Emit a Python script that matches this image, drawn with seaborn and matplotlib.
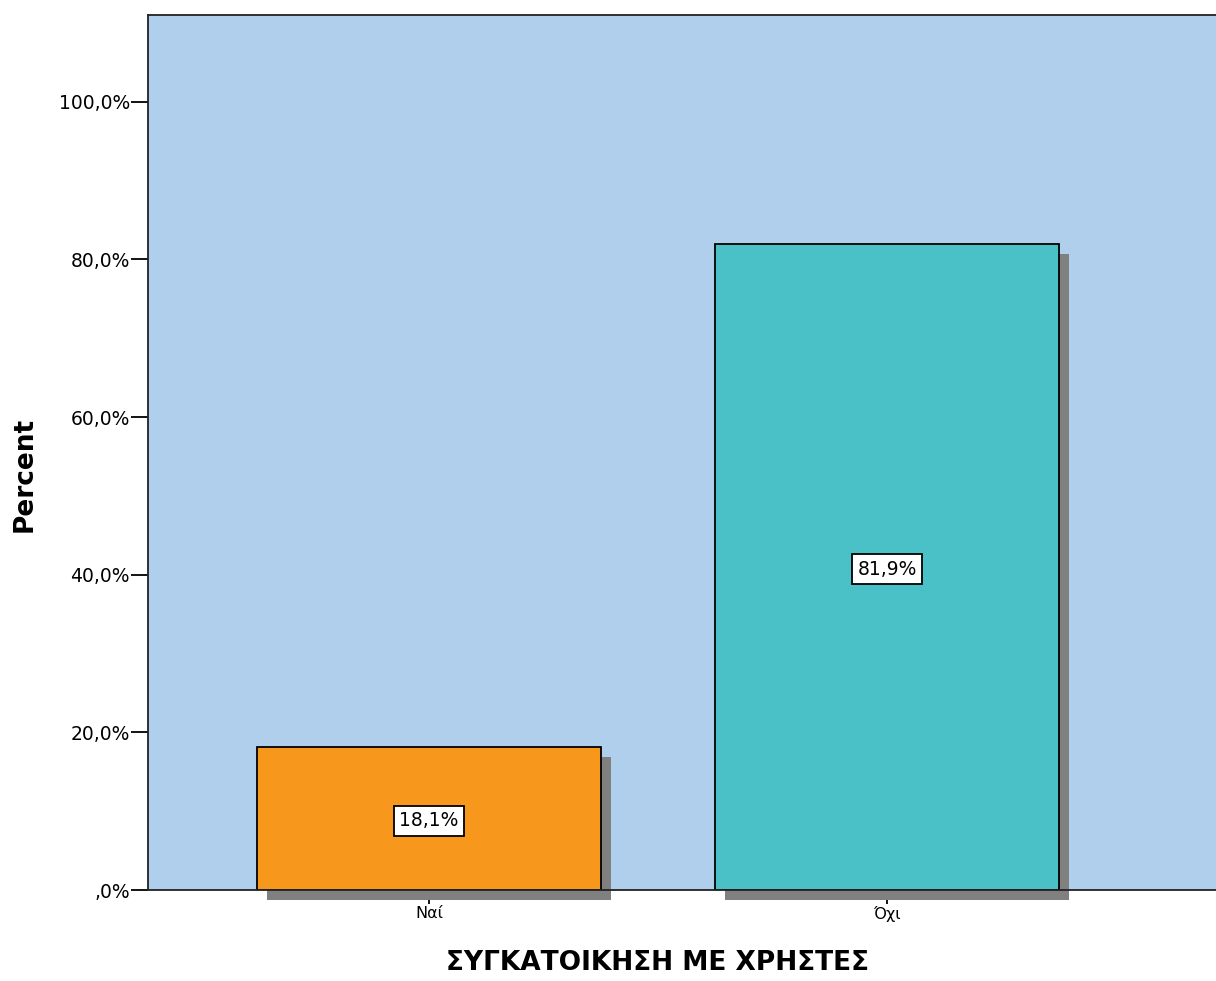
import matplotlib
matplotlib.use("Agg")
import matplotlib.pyplot as plt
import matplotlib.transforms as mtransforms
import seaborn as sns
import pandas as pd

categories = ["Ναί", "Όχι"]
percent = [18.1, 81.9]
bar_labels = ["18,1%", "81,9%"]
ytick_values = [0, 20, 40, 60, 80, 100]
ytick_labels = [",0%", "20,0%", "40,0%", "60,0%", "80,0%", "100,0%"]
colors = ["#F7981D", "#4AC1C6"]

sns.set_theme(style="white")
plt.rcParams["font.family"] = ["DejaVu Sans"]
plt.rcParams["text.color"] = "black"
plt.rcParams["xtick.color"] = "black"
plt.rcParams["ytick.color"] = "black"
plt.rcParams["axes.labelcolor"] = "black"

df = pd.DataFrame({"cat": categories, "pct": percent})

fig = plt.figure(figsize=(12.16, 9.81), dpi=100)
ax = fig.add_axes([148/1216, 91/981, 1 - 148/1216, 875/981])
ax.set_facecolor("#AFCFEC")

# shadow bars
sns.barplot(data=df, x="cat", y="pct", color="#808080", width=0.751,
            saturation=1, ax=ax, linewidth=0)
shadow_patches = list(ax.patches)
offset = mtransforms.ScaledTranslation(10/100, -10/100, fig.dpi_scale_trans)
for p in shadow_patches:
    p.set_transform(ax.transData + offset)
    p.set_clip_on(False)
    p.set_zorder(1)

sns.barplot(data=df, x="cat", y="pct", hue="cat", palette=colors, width=0.751,
            saturation=1, ax=ax, legend=False, edgecolor="black", linewidth=1.3)
for p in ax.patches[len(shadow_patches):]:
    p.set_zorder(2)

for i, (v, lab) in enumerate(zip(percent, bar_labels)):
    ax.text(i, v / 2, lab, ha="center", va="center_baseline", fontsize=13.5, zorder=5,
            bbox=dict(boxstyle="square,pad=0.3", facecolor="white",
                      edgecolor="black", linewidth=1.3))

ax.set_xlim(-0.6135, 1.718)
ax.set_ylim(0, 111)
ax.set_yticks(ytick_values)
ax.set_yticklabels(ytick_labels, fontsize=13.5)
ax.set_xticks([0, 1])
ax.set_xticklabels(categories, fontsize=11.5)
ax.tick_params(axis="y", left=True, direction="out", length=12, width=1.3, pad=1)
ax.tick_params(axis="x", bottom=True, direction="out", length=10, width=1.3, pad=1.5)
for s in ["left", "bottom", "top"]:
    ax.spines[s].set_color("#222222")
    ax.spines[s].set_linewidth(1.3)
ax.spines["right"].set_visible(False)
ax.spines["bottom"].set_zorder(3)

ax.set_ylabel("Percent", fontsize=19, fontweight="bold")
ax.set_xlabel("ΣΥΓΚΑΤΟΙΚΗΣΗ ΜΕ ΧΡΗΣΤΕΣ", fontsize=19, fontweight="bold")
ax.yaxis.set_label_coords(-0.103, 0.475)
ax.xaxis.set_label_coords(0.4775, -0.0686)

fig.savefig("out.png", dpi=100)
